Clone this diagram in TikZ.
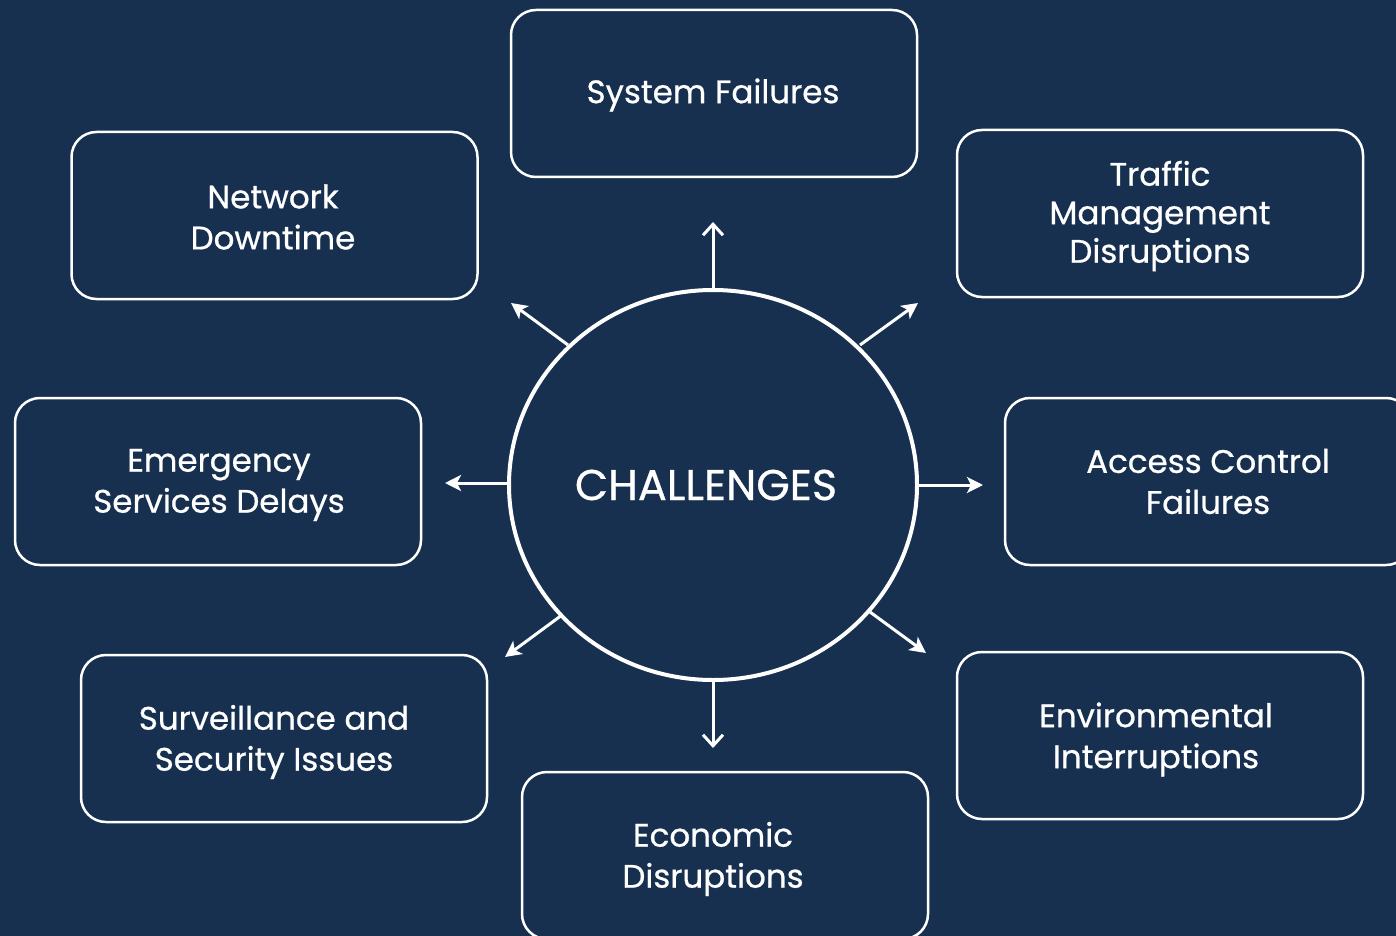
\documentclass[tikz,border=0pt]{standalone}
\usepackage{fontspec}
\setmainfont{Poppins}
\newfontfamily\medfont[FakeBold=0.7]{Poppins}
\usetikzlibrary{arrows.meta,shapes.geometric}
\definecolor{bg}{HTML}{17304F}
\tikzset{
  challenge/.style={draw=white, line width=2.5pt, rounded corners=25pt, fill=bg,
    minimum width=406pt, minimum height=167pt, inner sep=0pt},
  ctext/.style={align=center, text=white, inner sep=0pt,
    font=\medfont\fontsize{32.5}{41}\selectfont},
  hub/.style={draw=white, line width=4pt, ellipse, text=white},
  spoke/.style={draw=white, line width=3pt, -{Stealth[length=16pt,width=16pt,inset=4pt]}},
  spokebarb/.style={draw=white, line width=3pt, -{Straight Barb[length=11pt,width=20pt,line width=3pt]}}
}
\begin{document}
\begin{tikzpicture}[x=1pt,y=-1pt]
\fill[bg] (0,0) rectangle (1396,936);
\useasboundingbox (0,0) rectangle (1396,936);

\node[hub, minimum width=408pt, minimum height=390pt, inner sep=0pt] (hub) at (713,485) {};
\node[text=white, font=\medfont\fontsize{43}{48}\selectfont] (hubtext) at (706,485) {CHALLENGES};

\node[challenge] (sys) at (714,93.5) {};
\node[challenge] (net) at (274.5,215.5) {};
\node[challenge] (traf) at (1160,213.5) {};
\node[challenge] (emer) at (218,481.5) {};
\node[challenge] (acc) at (1208,481.5) {};
\node[challenge] (surv) at (284,738.5) {};
\node[challenge] (env) at (1160,735.5) {};
\node[challenge] (eco) at (725,855.5) {};

\node[ctext] (sysT) at (713,95) {System Failures};
\node[ctext] (netT) at (273,217) {Network\\Downtime};
\node[ctext, font=\medfont\fontsize{32.5}{38.5}\selectfont] (trafT) at (1160,216) {Traffic\\Management\\Disruptions};
\node[ctext] (emerT) at (219,485) {Emergency\\Services Delays};
\node[ctext] (accT) at (1208,481.5) {Access Control\\Failures};
\node[ctext] (survT) at (274,742) {Surveillance and\\Security Issues};
\node[ctext] (envT) at (1156,739.5) {Environmental\\Interruptions};
\node[ctext] (ecoT) at (713,859) {Economic\\Disruptions};

\coordinate (aup) at (713,222);
\coordinate (adown) at (713,748);
\coordinate (ane) at (918,303);
\coordinate (anw) at (511,303);
\coordinate (asw) at (505,657);
\coordinate (ase) at (926,653);
\coordinate (aleft) at (445,483);
\coordinate (aright) at (983,485);

\draw[spokebarb] (hub.north) ++(0,2) -- (aup);
\draw[spokebarb] (hub.south) ++(0,-2) -- (adown);
\draw[spoke] (860,345) -- (ane);
\draw[spoke] (568,345) -- (anw);
\draw[spoke] (562,615) -- (asw);
\draw[spoke] (870,612) -- (ase);
\draw[spoke] (hub.west) ++(1,-2) -- (aleft);
\draw[spoke] (hub.east) ++(-1,0) -- (aright);
\end{tikzpicture}
\end{document}
